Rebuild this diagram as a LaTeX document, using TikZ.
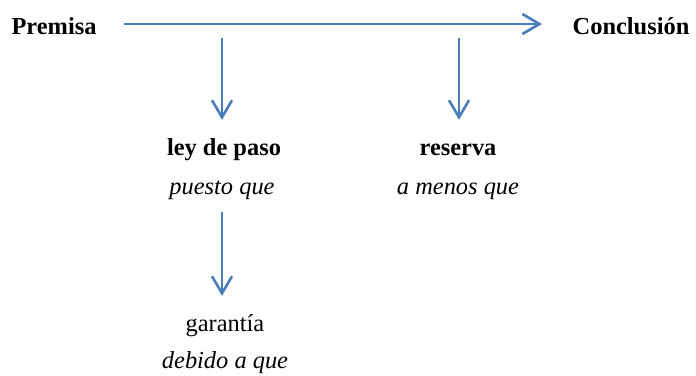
\documentclass[tikz,border=0pt]{standalone}
\usepackage{fontspec}
\setmainfont{Liberation Serif}
\usepackage{xcolor}
\usetikzlibrary{arrows.meta}
\definecolor{azulflecha}{RGB}{74,126,187}

\begin{document}
\begin{tikzpicture}[x=1bp, y=-1bp,
    rotulo/.style = {inner sep=0, anchor=base, text height=17bp, text depth=5bp},
    negrita/.style = {rotulo, font=\fontsize{24.5}{29}\selectfont\bfseries},
    normal/.style = {rotulo, font=\fontsize{24.5}{29}\selectfont},
    cursiva/.style = {rotulo, font=\fontsize{24.5}{29}\selectfont\itshape},
    flecha/.style = {draw=azulflecha, line width=2.6bp, -{Straight Barb[length=17bp, width=20bp]}}]
    % Parametri
    \pgfmathsetmacro{\gap}{18}
    \useasboundingbox (0,0) rectangle (696,375);
    % Premisa e conclusione
    \node[negrita] (premisa) at (54,34) {Premisa};
    \node[negrita] (conclusion) at (631,34) {Conclusión};
    % ley de paso
    \node[negrita] (ley) at (224,155) {ley de paso};
    \node[cursiva] (puesto) at (222,194) {puesto que};
    % reserva
    \node[negrita] (reserva) at (458,155) {reserva};
    \node[cursiva] (menos) at (458,194) {a menos que};
    % garantia
    \node[normal] (garantia) at (225,331) {garantía};
    \node[cursiva] (debido) at (225,368) {debido a que};
    % Punti di partenza
    \coordinate (inicio ley) at (222,38);
    \coordinate (inicio reserva) at (459,38);
    \coordinate (inicio garantia) at (222,212);
    % Frecce
    \draw[flecha, shorten <=27bp, shorten >=30.5bp] ([yshift=4bp]premisa.east) -- ([yshift=4bp]conclusion.west);
    \draw[flecha, shorten >=\gap bp] (inicio ley) -- (inicio ley |- ley.north);
    \draw[flecha, shorten >=\gap bp] (inicio reserva) -- (inicio reserva |- reserva.north);
    \draw[flecha, shorten >=\gap bp] (inicio garantia) -- (inicio garantia |- garantia.north);
\end{tikzpicture}
\end{document}
